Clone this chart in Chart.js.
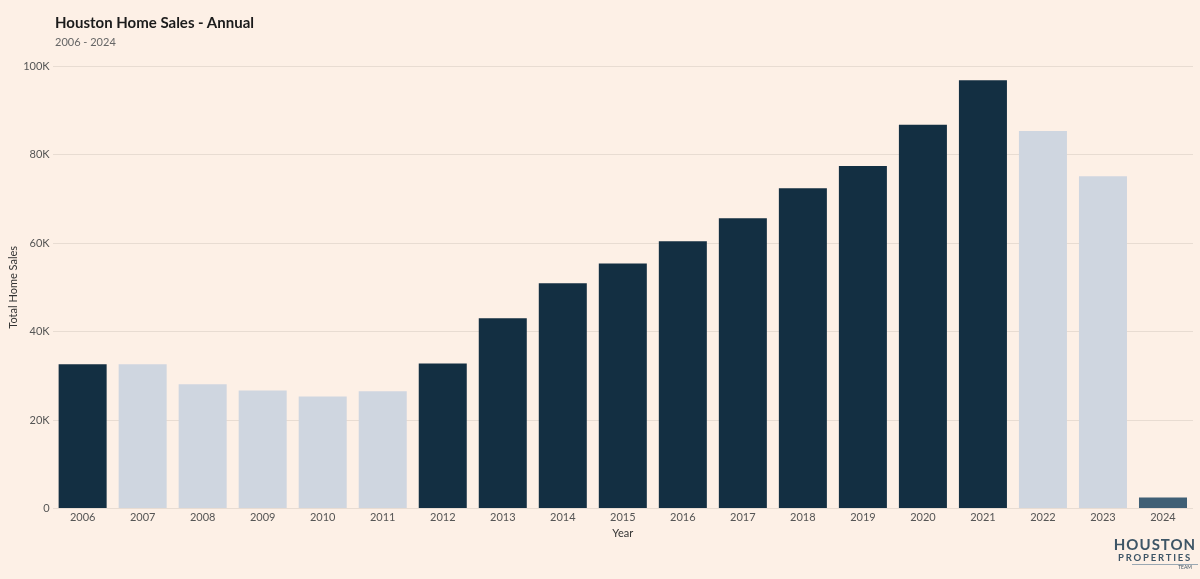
<!DOCTYPE html>
<html>
<head>
<meta charset="utf-8">
<script src="https://cdn.jsdelivr.net/npm/chart.js@4.4.1/dist/chart.umd.min.js"></script>
<style>
    html, body { margin: 0; padding: 0; background: #fdf0e6; }
    body { width: 1200px; height: 579px; position: relative; overflow: hidden; font-family: Lato, sans-serif; }
    #wrap { position: absolute; left: 0; top: 0; width: 1200px; height: 579px; }
    .title { position: absolute; left: 55px; top: 13px; font-size: 15px; font-weight: 700; color: #1b1b1b; }
    .subtitle { position: absolute; left: 55px; top: 35px; font-size: 11px; color: #666; }
    .logo { position: absolute; left: 1110px; top: 537px; width: 90px; text-align: center; color: #3d5566; line-height: 1; }
    .logo .l1 { font-size: 15px; font-weight: 700; letter-spacing: 1px; }
    .logo .l2 { font-size: 9.5px; font-weight: 700; letter-spacing: 1.8px; margin-top: 1px; }
    .logo .l3 { font-size: 5px; text-align: right; padding-right: 6px; margin-top: 1px; border-top: 1px solid #9aa8b3; width: 60px; margin-left: 22px; }
</style>
</head>
<body>
<div id="wrap"><canvas id="salesChart" width="1200" height="579"></canvas></div>
<div class="title">Houston Home Sales - Annual</div>
<div class="subtitle">2006 - 2024</div>
<div class="logo"><div class="l1">HOUSTON</div><div class="l2">PROPERTIES</div><div class="l3">TEAM</div></div>
<script>
    var years = ['2006', '2007', '2008', '2009', '2010', '2011', '2012', '2013', '2014', '2015',
        '2016', '2017', '2018', '2019', '2020', '2021', '2022', '2023', '2024'];
    var sales = [32600, 32600, 28100, 26700, 25300, 26500, 32800, 43000, 50900, 55400,
        60400, 65600, 72400, 77400, 86700, 96800, 85300, 75100, 2500];
    // up = growth year, down = decline, partial = year to date
    var trend = ['up', 'down', 'down', 'down', 'down', 'down', 'up', 'up', 'up', 'up',
        'up', 'up', 'up', 'up', 'up', 'up', 'down', 'down', 'partial'];
    var yTicks = [0, 20000, 40000, 60000, 80000, 100000];

    var trendColors = { up: '#132f42', down: '#cfd6e0', partial: '#3f5f75' };

    var ctx = document.getElementById('salesChart').getContext('2d');
    new Chart(ctx, {
        type: 'bar',
        data: {
            labels: years,
            datasets: [{
                label: 'Total Home Sales',
                data: sales,
                backgroundColor: trend.map(function (t) { return trendColors[t]; }),
                borderWidth: 0,
                categoryPercentage: 0.8,
                barPercentage: 1
            }]
        },
        options: {
            responsive: false,
            animation: false,
            layout: { padding: { top: 66, left: 7, right: 7, bottom: 35 } },
            plugins: {
                legend: { display: false },
                tooltip: { enabled: false }
            },
            scales: {
                x: {
                    grid: { display: false, drawTicks: false },
                    border: { display: false },
                    ticks: { color: '#555', font: { family: 'Lato', size: 11 }, maxRotation: 0, padding: 2 },
                    title: { display: true, text: 'Year', color: '#333', font: { family: 'Lato', size: 11 }, padding: { top: 1 } }
                },
                y: {
                    min: 0,
                    max: 100000,
                    afterBuildTicks: function (axis) {
                        axis.ticks = yTicks.map(function (v) { return { value: v }; });
                    },
                    grid: { color: '#e8dcd2', drawTicks: false },
                    border: { display: false },
                    ticks: {
                        color: '#555',
                        padding: 3,
                        font: { family: 'Lato', size: 11 },
                        callback: function (v) { return v === 0 ? '0' : (v / 1000) + 'K'; }
                    },
                    title: { display: true, text: 'Total Home Sales', color: '#333', font: { family: 'Lato', size: 11 }, padding: 0 }
                }
            }
        }
    });
</script>
</body>
</html>
